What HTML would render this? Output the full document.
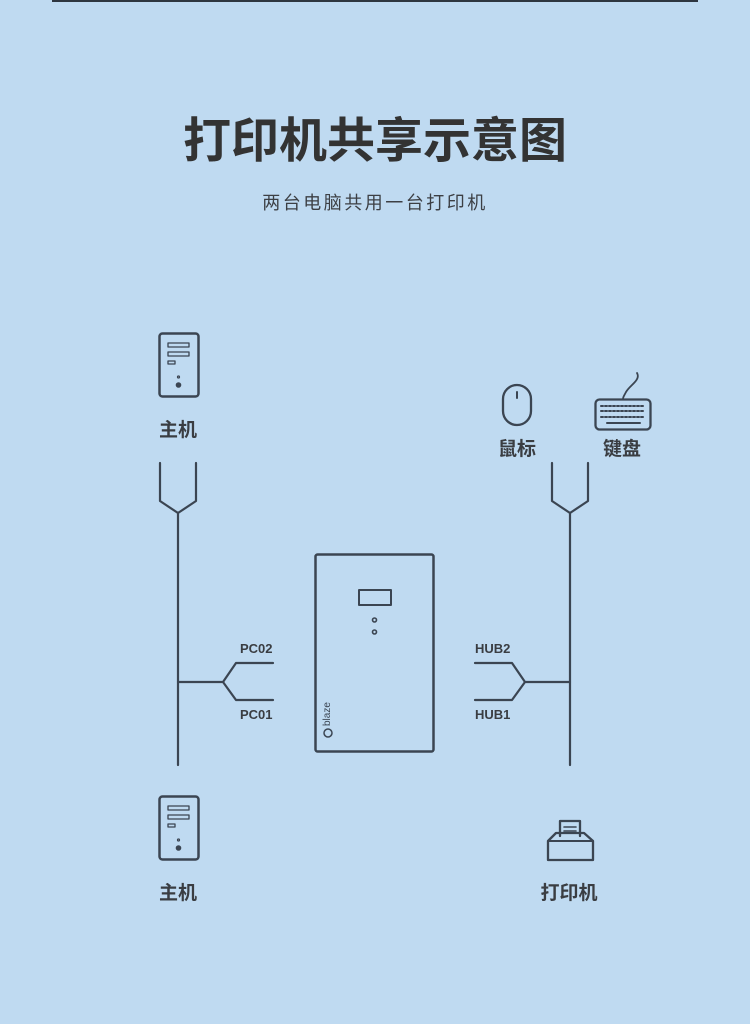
<!DOCTYPE html>
<html><head><meta charset="utf-8"><style>
html,body{margin:0;padding:0}
body{width:750px;height:1024px;background:#bfdaf1;position:relative;overflow:hidden;font-family:"Liberation Sans","Noto Sans CJK SC",sans-serif}
.t{position:absolute;white-space:nowrap;color:#3a3d42}
</style></head><body>
<div style="position:absolute;left:52px;top:0;width:646px;height:2px;background:#2e3640"></div>
<div class="t" style="left:0;width:750px;text-align:center;top:101px;font-size:48px;font-weight:bold;letter-spacing:0;color:#333">打印机共享示意图</div>
<div class="t" style="left:0;width:750px;text-align:center;top:189px;font-size:18px;letter-spacing:2.5px;color:#3c3f44">两台电脑共用一台打印机</div>
<svg width="750" height="1024" style="position:absolute;left:0;top:0" fill="none" stroke="#3b4552" stroke-width="2.2" stroke-linejoin="round" stroke-linecap="round">
<path d="M160 463V501L178 513L196 501V463"/>
<path d="M178 513V765"/>
<path d="M178 682H223L236 663H273M223 682L236 700H273"/>
<path d="M552 463V501L570 513L588 501V463"/>
<path d="M570 513V765"/>
<path d="M570 682H525L512 663H475M525 682L512 700H475"/>
<rect x="159.5" y="333.5" width="39" height="63" rx="3" stroke-width="2.5"/>
<rect x="168" y="343" width="21" height="4" stroke-width="1.3"/>
<rect x="168" y="352" width="21" height="4" stroke-width="1.3"/>
<rect x="168" y="361" width="7" height="3" stroke-width="1.3"/>
<circle cx="178.5" cy="377" r="1" stroke-width="1.2"/>
<circle cx="178.5" cy="385" r="2.8" fill="#3b4552" stroke="none"/>
<rect x="159.5" y="796.5" width="39" height="63" rx="3" stroke-width="2.5"/>
<rect x="168" y="806" width="21" height="4" stroke-width="1.3"/>
<rect x="168" y="815" width="21" height="4" stroke-width="1.3"/>
<rect x="168" y="824" width="7" height="3" stroke-width="1.3"/>
<circle cx="178.5" cy="840" r="1" stroke-width="1.2"/>
<circle cx="178.5" cy="848" r="2.8" fill="#3b4552" stroke="none"/>
<rect x="315.5" y="554.5" width="118" height="197" rx="2" stroke-width="2.5"/>
<rect x="359" y="590" width="32" height="15" stroke-width="2"/>
<circle cx="374.5" cy="620" r="2" stroke-width="1.6"/>
<circle cx="374.5" cy="632" r="2" stroke-width="1.6"/>
<circle cx="328" cy="733" r="4" stroke-width="1.5"/>
<rect x="503" y="385" width="28" height="40" rx="14" stroke-width="2.3"/>
<path d="M517 392V398" stroke-width="2"/>
<rect x="595.5" y="399.5" width="55" height="30" rx="4" stroke-width="2.3"/>
<path d="M637 373C641 380 630 385 626 392C624 396 623 397 623 399" stroke-width="1.8"/>
<path d="M601 406H645M601 411H645M601 417H645" stroke-width="2" stroke-dasharray="2 2"/>
<path d="M607 423H640" stroke-width="2"/>
<path d="M560 836V821H580V836" stroke-width="2.3"/>
<path d="M564 827H576M564 831H576" stroke-width="1.6"/>
<path d="M556 833H584L593 841V860H548V841Z" stroke-width="2.3"/>
<path d="M548 841H593" stroke-width="2"/>
</svg>
<div class="t" style="left:322px;top:726px;font-size:10px;line-height:12px;transform:rotate(-90deg);transform-origin:0 0;color:#3b4552">blaze</div>
<div class="t" style="left:148px;width:60px;text-align:center;top:415px;font-size:19px;font-weight:bold">主机</div>
<div class="t" style="left:148px;width:60px;text-align:center;top:878px;font-size:19px;font-weight:bold">主机</div>
<div class="t" style="left:487px;width:60px;text-align:center;top:434px;font-size:19px;font-weight:bold">鼠标</div>
<div class="t" style="left:592px;width:60px;text-align:center;top:434px;font-size:19px;font-weight:bold">键盘</div>
<div class="t" style="left:529px;width:80px;text-align:center;top:878px;font-size:19px;font-weight:bold">打印机</div>
<div class="t" style="left:240px;top:641px;font-size:13px;font-weight:bold">PC02</div>
<div class="t" style="left:240px;top:707px;font-size:13px;font-weight:bold">PC01</div>
<div class="t" style="left:475px;top:641px;font-size:13px;font-weight:bold">HUB2</div>
<div class="t" style="left:475px;top:707px;font-size:13px;font-weight:bold">HUB1</div>
</body></html>
